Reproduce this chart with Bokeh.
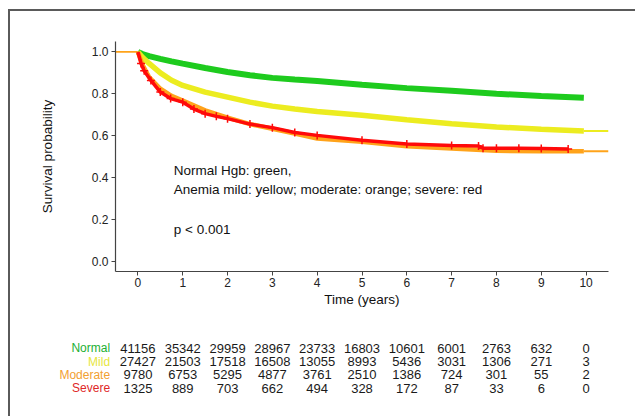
from bokeh.plotting import figure
from bokeh.models import Range1d, FixedTicker, CustomJSTickFormatter
from bokeh.core.properties import value
from bokeh.embed import file_html
from bokeh.resources import INLINE

FONT = "Liberation Sans"

# --- survival curves ---
normal_t = [0, 0.1, 0.25, 0.5, 0.75, 1, 1.5, 2, 2.5, 3, 3.5, 4, 5, 6, 7, 8, 9, 9.95]
normal_s = [1.0, 0.99, 0.98, 0.967, 0.955, 0.944, 0.923, 0.904, 0.889, 0.876, 0.868, 0.861,
            0.843, 0.827, 0.815, 0.800, 0.789, 0.781]

mild_t = [0, 0.1, 0.25, 0.5, 0.75, 1, 1.5, 2, 2.5, 3, 3.5, 4, 5, 6, 7, 8, 9, 9.95]
mild_s = [1.0, 0.975, 0.945, 0.9, 0.865, 0.84, 0.808, 0.784, 0.76, 0.741, 0.727, 0.715,
          0.697, 0.676, 0.657, 0.641, 0.630, 0.622]
mild_tail_t = [9.95, 10.5]

moderate_t = [0, 0.1, 0.25, 0.5, 0.75, 1, 1.5, 2, 2.5, 3, 3.5, 4, 5, 6, 7, 8, 9, 9.95]
moderate_s = [1.0, 0.94, 0.88, 0.824, 0.79, 0.768, 0.721, 0.686, 0.655, 0.633, 0.61, 0.586,
              0.57, 0.549, 0.538, 0.527, 0.525, 0.525]
moderate_head_t = [-0.5, 0]
moderate_tail_t = [9.95, 10.5]

severe_t = [0, 0.07, 0.14, 0.29, 0.5, 0.73, 1, 1.25, 1.5, 1.75, 2, 2.5, 3, 3.5, 4, 5, 6, 7,
            7.6, 7.7, 8, 8.5, 9, 9.6]
severe_s = [1.0, 0.945, 0.91, 0.864, 0.808, 0.777, 0.76, 0.727, 0.705, 0.692, 0.681, 0.655,
            0.638, 0.615, 0.601, 0.578, 0.56, 0.553, 0.55, 0.54, 0.54, 0.539, 0.538, 0.536]

# --- risk table ---
groups = ["Normal", "Mild", "Moderate", "Severe"]
group_colors = ["#22b033", "#e6e640", "#f2a030", "#e02828"]
risk_times = [0, 1, 2, 3, 4, 5, 6, 7, 8, 9, 10]
risk_normal = [41156, 35342, 29959, 28967, 23733, 16803, 10601, 6001, 2763, 632, 0]
risk_mild = [27427, 21503, 17518, 16508, 13055, 8993, 5436, 3031, 1306, 271, 3]
risk_moderate = [9780, 6753, 5295, 4877, 3761, 2510, 1386, 724, 301, 55, 2]
risk_severe = [1325, 889, 703, 662, 494, 328, 172, 87, 33, 6, 0]

x_ticks = [0, 1, 2, 3, 4, 5, 6, 7, 8, 9, 10]
y_ticks = [0.0, 0.2, 0.4, 0.6, 0.8, 1.0]

GREEN = "#1ecb1e"
YELLOW = "#ecec20"
ORANGE = "#ffa31a"
RED = "#ff0a0a"
BORDER = "2px solid #5a5a5a"

W = 627
BL, BR = 105, 29
X0, X1 = -0.5, 10.5

p = figure(width=W, height=319, x_range=Range1d(X0, X1), y_range=Range1d(-0.05, 1.05),
           output_backend="svg", toolbar_location=None,
           min_border_left=BL, min_border_right=BR, min_border_top=30, min_border_bottom=59)
p.styles = {"border-top": BORDER, "border-left": BORDER, "margin-left": "8px", "margin-top": "9px"}
p.grid.visible = False
p.outline_line_color = None
p.background_fill_color = "white"
p.border_fill_color = "white"

for ax in (p.xaxis[0], p.yaxis[0]):
    ax.axis_line_color = "#444444"
    ax.axis_line_width = 1.2
    ax.major_tick_line_color = "#444444"
    ax.major_tick_out = 4
    ax.major_tick_in = 0
    ax.minor_tick_line_color = None
    ax.major_label_text_font = FONT
    ax.major_label_text_font_size = "12px"
    ax.major_label_text_color = "#222222"
    ax.axis_label_text_font = FONT
    ax.axis_label_text_font_size = "13.5px"
    ax.axis_label_text_font_style = "normal"
    ax.axis_label_text_color = "#111111"

p.xaxis.ticker = FixedTicker(ticks=x_ticks)
p.yaxis.ticker = FixedTicker(ticks=y_ticks)
p.yaxis.formatter = CustomJSTickFormatter(code="return tick.toFixed(1);")
p.xaxis.axis_label = "Time (years)"
p.yaxis.axis_label = "Survival probability"
p.xaxis.major_label_standoff = 2
p.xaxis.axis_label_standoff = 2
p.yaxis.major_label_standoff = 3
p.yaxis.axis_label_standoff = 34

p.line(normal_t, normal_s, color=GREEN, line_width=6)
p.line(mild_t, mild_s, color=YELLOW, line_width=5.5)
p.line(mild_tail_t, [mild_s[-1]] * 2, color=YELLOW, line_width=1.8)
p.line(moderate_t, moderate_s, color=ORANGE, line_width=4.5)
p.line(moderate_head_t, [moderate_s[0]] * 2, color=ORANGE, line_width=1.8)
p.line(moderate_tail_t, [moderate_s[-1]] * 2, color=ORANGE, line_width=1.8)
p.line(severe_t, severe_s, color=RED, line_width=3.5)
p.scatter(severe_t[1:], severe_s[1:], marker="cross", size=8, line_color=RED, line_width=1.5)

ann_x = [0.8, 0.8, 0.8]
ann_y = [0.434, 0.344, 0.153]
ann_text = ["Normal Hgb: green,", "Anemia mild: yellow; moderate: orange; severe: red", "p < 0.001"]
p.text(ann_x, ann_y, text=ann_text, text_font=value(FONT), text_font_size="13.5px",
       text_baseline="middle", text_align="left", text_color="#111111")

# risk table figure: frame spans full width, same px-per-year scale as the plot
ppy = (W - BL - BR) / (X1 - X0)
tx0 = X0 - BL / ppy
tx1 = X1 + BR / ppy
TH = 88
t = figure(width=W, height=TH, x_range=Range1d(tx0, tx1), y_range=Range1d(5.124, -1.478),
           output_backend="svg", toolbar_location=None,
           x_axis_location=None, y_axis_location=None,
           min_border_left=0, min_border_right=0, min_border_top=0, min_border_bottom=0)
t.styles = {"border-left": BORDER, "margin-left": "8px"}
t.grid.visible = False
t.outline_line_color = None

rows = [risk_normal, risk_mild, risk_moderate, risk_severe]
xs, ys, txt = [], [], []
for i, r in enumerate(rows):
    for tt, n in zip(risk_times, r):
        xs.append(tt)
        ys.append(i)
        txt.append(str(n))
t.text(xs, ys, text=txt, text_font=value(FONT), text_font_size="13px",
       text_align="center", text_baseline="middle", text_color="#1a1a1a")

label_x = -0.62
t.text([label_x] * 4, list(range(4)), text=groups, text_color=group_colors,
       text_align="right", text_baseline="middle", text_font=value(FONT),
       text_font_size="12px")

open("out.html", "w").write(file_html([p, t], INLINE))
